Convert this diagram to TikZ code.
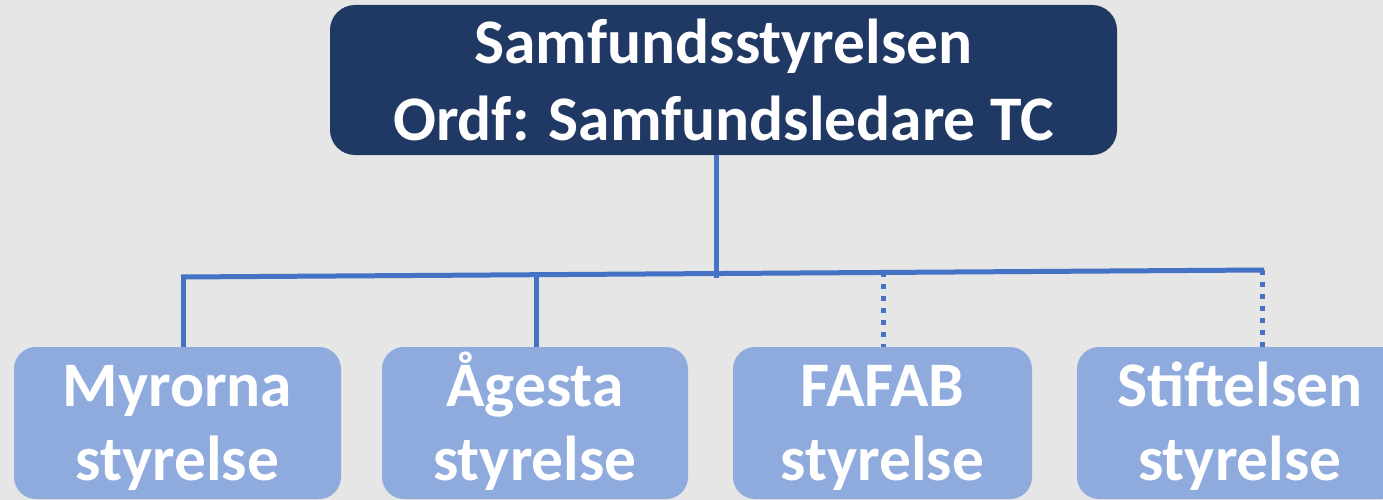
\documentclass[tikz,border=0pt]{standalone}
\usepackage{fontspec}
\setmainfont{Carlito}
\definecolor{bg}{HTML}{E6E6E6}
\definecolor{navy}{HTML}{1F3864}
\definecolor{lightblue}{HTML}{8FAADC}
\definecolor{linkblue}{HTML}{4472C4}
\begin{document}
\begin{tikzpicture}[x=1pt,y=-1pt,
  topbox/.style={fill=navy, rounded corners=25pt, inner sep=0pt, minimum width=787pt, minimum height=150pt},
  subbox/.style={fill=lightblue, rounded corners=22pt, inner sep=0pt, minimum height=152pt},
  toptxt/.style={text=white, font=\fontsize{63.5}{77}\selectfont\bfseries, align=center, inner sep=0pt, anchor=base},
  subtxt/.style={text=white, font=\fontsize{63.5}{74}\selectfont\bfseries, align=center, inner sep=0pt, anchor=base},
  link/.style={draw=linkblue, line width=5pt},
  dotlink/.style={draw=linkblue, line width=5pt, dash pattern=on 5pt off 7pt}
]
\useasboundingbox[fill=bg] (0,0) rectangle (1383,500);

\node[topbox] (top) at (723.5,80) {};
\node[toptxt] (toptext) at (723.5,140) {Samfundsstyrelsen\\Ordf: Samfundsledare TC};

\node[subbox, minimum width=327pt] (m) at (177.5,423) {};
\node[subtxt] (mt) at (177.5,480) {Myrorna\\styrelse};
\node[subbox, minimum width=306pt] (a) at (535,423) {};
\node[subtxt] (at) at (535,480) {Ågesta\\styrelse};
\node[subbox, minimum width=299pt] (f) at (882.5,423) {};
\node[subtxt] (ft) at (882.5,480) {FAFAB\\styrelse};
\node[subbox, minimum width=326pt] (s) at (1240,423) {};
\node[subtxt] (st) at (1240,480) {Stiftelsen\\styrelse};

\coordinate (bl) at (181,277);
\coordinate (br) at (1264,270);
\coordinate (jt) at (716,155);
\coordinate (jtb) at (716,278);
\coordinate (jm) at (183,277);
\coordinate (ja) at (536,274.5);
\coordinate (jf) at (883,271.5);
\coordinate (js) at (1262,270);

\draw[link] (bl) -- (br);
\draw[link] (jt) -- (jtb);
\draw[link] (jm) -- (jm |- m.north);
\draw[link] (ja) -- (ja |- a.north);
\draw[dotlink] (jf) -- (jf |- f.north);
\draw[dotlink] (js) -- (js |- s.north);
\end{tikzpicture}
\end{document}
